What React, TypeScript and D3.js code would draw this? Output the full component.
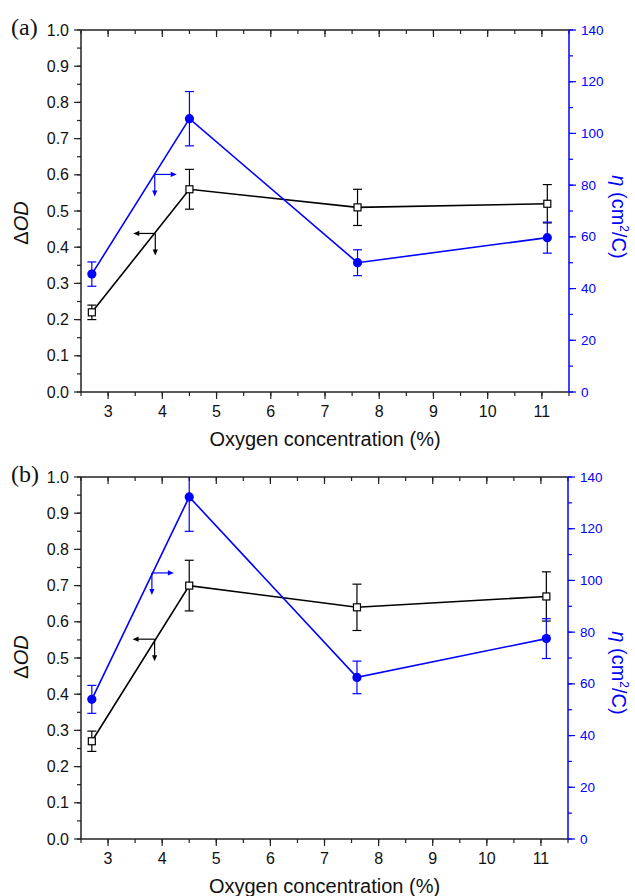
import React from "react";
import * as d3 from "d3";

// oxygen concentration (%) for every point
const oxygen = [2.7, 4.5, 7.6, 11.1];

// panel (a)
const odA = [0.22, 0.56, 0.51, 0.52];
const odErrA = [0.02, 0.055, 0.05, 0.053];
const etaA = [45.6, 105.7, 50, 59.7];
const etaErrA = [4.7, 10.5, 5, 6];

// panel (b)
const odB = [0.27, 0.7, 0.64, 0.67];
const odErrB = [0.028, 0.07, 0.064, 0.068];
const etaB = [54, 132.3, 62.5, 77.5];
const etaErrB = [5.4, 13.3, 6.3, 7.7];

// arrow corners [x, ΔOD] for the "which axis" arrows
const arrowEtaA = [3.86, 0.601];
const arrowOdA = [3.87, 0.438];
const arrowEtaB = [3.81, 0.735];
const arrowOdB = [3.86, 0.552];

const xTicks = [3, 4, 5, 6, 7, 8, 9, 10, 11];
const odTicks = [0, 0.1, 0.2, 0.3, 0.4, 0.5, 0.6, 0.7, 0.8, 0.9, 1.0];
const etaTicks = [0, 20, 40, 60, 80, 100, 120, 140];

const BLUE = "#0000ff";
const AXIS = "#222";
const FONT = "'Liberation Sans', Arial, sans-serif";

function Panel({ id, top, bottom, left, right, tag, od, odErr, eta, etaErr, arrowEta, arrowOd, odLabelY, etaLabelY }) {
  const x = d3.scaleLinear().domain([2.5, 11.5]).range([left, right]);
  const y = d3.scaleLinear().domain([0, 1]).range([bottom, top]);
  const y2 = d3.scaleLinear().domain([0, 140]).range([bottom, top]);

  const odPts = oxygen.map((o, i) => [x(o), y(od[i])]);
  const etaPts = oxygen.map((o, i) => [x(o), y2(eta[i])]);
  const line = d3.line();

  const minorX = d3.range(2.5, 11.6, 0.5);
  const minorY = d3.range(0, 1.001, 0.05);
  const minorY2 = d3.range(0, 141, 10);

  const cap = 4.5;
  const arrowLen = 22;

  const head = (px, py, dir) => {
    // small filled triangle pointing in dir
    const s = 6, w = 2.6;
    if (dir === "right") return `M${px},${py}L${px - s},${py - w}L${px - s},${py + w}Z`;
    if (dir === "left") return `M${px},${py}L${px + s},${py - w}L${px + s},${py + w}Z`;
    return `M${px},${py}L${px - w},${py - s}L${px + w},${py - s}Z`;
  };

  const ae = [x(arrowEta[0]), y(arrowEta[1])];
  const ao = [x(arrowOd[0]), y(arrowOd[1])];

  return (
    <g>
      <defs>
        <clipPath id={id}>
          <rect x={left} y={top} width={right - left} height={bottom - top} />
        </clipPath>
      </defs>

      <text x={11} y={top + 5} fontFamily="'Liberation Serif', 'Times New Roman', serif" fontSize={24} fill="#111">{tag}</text>

      {/* frame */}
      <line x1={left} x2={right} y1={top} y2={top} stroke={AXIS} strokeWidth={1.5} />
      <line x1={left} x2={right} y1={bottom} y2={bottom} stroke={AXIS} strokeWidth={1.5} />
      <line x1={left} x2={left} y1={top} y2={bottom} stroke={AXIS} strokeWidth={1.5} />

      {/* x ticks */}
      {minorX.map((v) => (
        <g key={"mx" + v}>
          <line x1={x(v)} x2={x(v)} y1={bottom} y2={bottom + 4} stroke={AXIS} strokeWidth={1.2} />
          <line x1={x(v)} x2={x(v)} y1={top} y2={top + 4} stroke={AXIS} strokeWidth={1.2} />
        </g>
      ))}
      {xTicks.map((v) => (
        <g key={"x" + v}>
          <line x1={x(v)} x2={x(v)} y1={bottom} y2={bottom + 7} stroke={AXIS} strokeWidth={1.2} />
          <line x1={x(v)} x2={x(v)} y1={top} y2={top + 7} stroke={AXIS} strokeWidth={1.2} />
          <text x={x(v)} y={bottom + 19} textAnchor="middle" dominantBaseline="central" fontFamily={FONT} fontSize={16} fill="#111">{v}</text>
        </g>
      ))}
      <text x={(left + right) / 2} y={bottom + 54} textAnchor="middle" fontFamily={FONT} fontSize={20} fill="#111">Oxygen concentration (%)</text>

      {/* left axis */}
      {minorY.map((v) => (
        <line key={"my" + v} x1={left - 4} x2={left} y1={y(v)} y2={y(v)} stroke={AXIS} strokeWidth={1.2} />
      ))}
      {odTicks.map((v) => (
        <g key={"y" + v}>
          <line x1={left - 7} x2={left} y1={y(v)} y2={y(v)} stroke={AXIS} strokeWidth={1.2} />
          <text x={left - 12} y={y(v)} textAnchor="end" dominantBaseline="central" fontFamily={FONT} fontSize={16} fill="#111">{v.toFixed(1)}</text>
        </g>
      ))}
      <text transform={`translate(28,${odLabelY}) rotate(-90)`} textAnchor="middle" fontFamily={FONT} fontSize={20} fill="#111">
        Δ<tspan fontStyle="italic">OD</tspan>
      </text>

      {/* right axis (η) */}
      <line x1={right} x2={right} y1={top} y2={bottom} stroke={BLUE} strokeWidth={1.5} />
      {minorY2.map((v) => (
        <line key={"my2" + v} x1={right} x2={right + 4} y1={y2(v)} y2={y2(v)} stroke={BLUE} strokeWidth={1.2} />
      ))}
      {etaTicks.map((v) => (
        <g key={"e" + v}>
          <line x1={right} x2={right + 7} y1={y2(v)} y2={y2(v)} stroke={BLUE} strokeWidth={1.2} />
          <text x={right + 12} y={y2(v)} dominantBaseline="central" fontFamily={FONT} fontSize={13.5} fill={BLUE}>{v}</text>
        </g>
      ))}
      <text transform={`translate(612,${etaLabelY}) rotate(90)`} textAnchor="middle" fontFamily={FONT} fontSize={20} fill={BLUE}>
        <tspan fontStyle="italic">η</tspan> (cm<tspan dy={-8} fontSize={12}>2</tspan><tspan dy={8}>/C)</tspan>
      </text>

      <g clipPath={`url(#${id})`}>
        {/* ΔOD series */}
        <path d={line(odPts)} fill="none" stroke="#000" strokeWidth={1.6} />
        {oxygen.map((o, i) => (
          <g key={"od" + i} stroke="#000" strokeWidth={1.2}>
            <line x1={x(o)} x2={x(o)} y1={y(od[i] - odErr[i])} y2={y(od[i] + odErr[i])} />
            <line x1={x(o) - cap} x2={x(o) + cap} y1={y(od[i] - odErr[i])} y2={y(od[i] - odErr[i])} />
            <line x1={x(o) - cap} x2={x(o) + cap} y1={y(od[i] + odErr[i])} y2={y(od[i] + odErr[i])} />
          </g>
        ))}

        {/* η series */}
        <path d={line(etaPts)} fill="none" stroke={BLUE} strokeWidth={1.6} />
        {oxygen.map((o, i) => (
          <g key={"eta" + i} stroke={BLUE} strokeWidth={1.2}>
            <line x1={x(o)} x2={x(o)} y1={y2(eta[i] - etaErr[i])} y2={y2(eta[i] + etaErr[i])} />
            <line x1={x(o) - cap} x2={x(o) + cap} y1={y2(eta[i] - etaErr[i])} y2={y2(eta[i] - etaErr[i])} />
            <line x1={x(o) - cap} x2={x(o) + cap} y1={y2(eta[i] + etaErr[i])} y2={y2(eta[i] + etaErr[i])} />
          </g>
        ))}
        {etaPts.map((p, i) => (
          <circle key={"c" + i} cx={p[0]} cy={p[1]} r={4.6} fill={BLUE} />
        ))}
        {odPts.map((p, i) => (
          <rect key={"s" + i} x={p[0] - 3.5} y={p[1] - 3.5} width={7} height={7} fill="#fff" stroke="#000" strokeWidth={1.2} />
        ))}

        {/* axis-pointer arrows */}
        <g stroke={BLUE} strokeWidth={1.2}>
          <line x1={ae[0]} x2={ae[0] + arrowLen - 4} y1={ae[1]} y2={ae[1]} />
          <line x1={ae[0]} x2={ae[0]} y1={ae[1]} y2={ae[1] + arrowLen - 4} />
        </g>
        <path d={head(ae[0] + arrowLen, ae[1], "right")} fill={BLUE} />
        <path d={head(ae[0], ae[1] + arrowLen, "down")} fill={BLUE} />
        <g stroke="#000" strokeWidth={1.2}>
          <line x1={ao[0]} x2={ao[0] - arrowLen + 4} y1={ao[1]} y2={ao[1]} />
          <line x1={ao[0]} x2={ao[0]} y1={ao[1]} y2={ao[1] + arrowLen - 4} />
        </g>
        <path d={head(ao[0] - arrowLen, ao[1], "left")} fill="#000" />
        <path d={head(ao[0], ao[1] + arrowLen, "down")} fill="#000" />
      </g>
    </g>
  );
}

export default function App() {
  return (
    <svg width={635} height={896} style={{ position: "absolute", left: 0, top: 0, background: "#fff" }}>
      <rect width={635} height={896} fill="#fff" />
      <Panel id="clipA" tag="(a)" top={30} bottom={392} left={81} right={569}
        od={odA} odErr={odErrA} eta={etaA} etaErr={etaErrA}
        arrowEta={arrowEtaA} arrowOd={arrowOdA} odLabelY={223} etaLabelY={217} />
      <Panel id="clipB" tag="(b)" top={477} bottom={839} left={81} right={568}
        od={odB} odErr={odErrB} eta={etaB} etaErr={etaErrB}
        arrowEta={arrowEtaB} arrowOd={arrowOdB} odLabelY={657} etaLabelY={673} />
    </svg>
  );
}
